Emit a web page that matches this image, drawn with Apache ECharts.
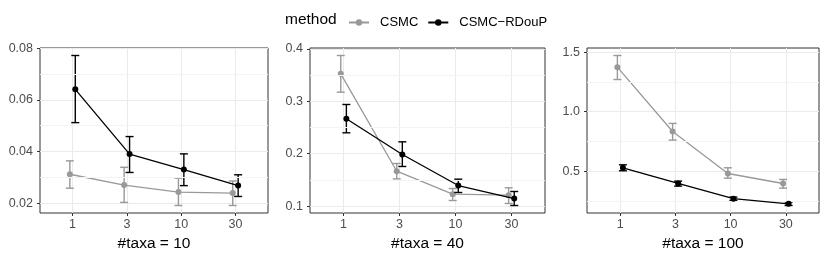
<!DOCTYPE html>
<html><head><meta charset="utf-8">
<script src="https://cdn.jsdelivr.net/npm/echarts@6/dist/echarts.min.js"></script>
<style>html,body{margin:0;padding:0;background:#fff}#c{width:830px;height:260px}</style>
</head><body><div id="c"></div>
<script>
const categories = ['1', '3', '10', '30'];
const panelTitles = ['#taxa = 10', '#taxa = 40', '#taxa = 100'];
const methods = ['CSMC', 'CSMC\u2212RDouP'];

// #taxa = 10
const csmcMean10 = [0.0312, 0.0270, 0.0243, 0.0239];
const csmcLow10  = [0.0258, 0.0203, 0.0191, 0.0191];
const csmcHigh10 = [0.0364, 0.0339, 0.0297, 0.0286];
const rdoupMean10 = [0.0641, 0.0390, 0.0330, 0.0268];
const rdoupLow10  = [0.0512, 0.0319, 0.0268, 0.0226];
const rdoupHigh10 = [0.0772, 0.0458, 0.0391, 0.0310];
const yTicks10 = ['0.02', '0.04', '0.06', '0.08'];
const yMinor10 = [0.03, 0.05, 0.07];

// #taxa = 40
const csmcMean40 = [0.3524, 0.1667, 0.1229, 0.1210];
const csmcLow40  = [0.3174, 0.1521, 0.1108, 0.1051];
const csmcHigh40 = [0.3873, 0.1814, 0.1337, 0.1350];
const rdoupMean40 = [0.2666, 0.1985, 0.1394, 0.1146];
const rdoupLow40  = [0.2399, 0.1757, 0.1261, 0.1013];
const rdoupHigh40 = [0.2939, 0.2227, 0.1515, 0.1280];
const yTicks40 = ['0.1', '0.2', '0.3', '0.4'];
const yMinor40 = [0.15, 0.25, 0.35];

// #taxa = 100
const csmcMean100 = [1.374, 0.833, 0.480, 0.396];
const csmcLow100  = [1.270, 0.761, 0.441, 0.357];
const csmcHigh100 = [1.472, 0.901, 0.528, 0.430];
const rdoupMean100 = [0.528, 0.396, 0.268, 0.225];
const rdoupLow100  = [0.503, 0.374, 0.254, 0.211];
const rdoupHigh100 = [0.553, 0.416, 0.282, 0.240];
const yTicks100 = ['0.5', '1.0', '1.5'];
const yMinor100 = [0.25, 0.75, 1.25];

const panels = [
  { title: panelTitles[0], mean: [csmcMean10, rdoupMean10], low: [csmcLow10, rdoupLow10], high: [csmcHigh10, rdoupHigh10], ticks: yTicks10, minor: yMinor10 },
  { title: panelTitles[1], mean: [csmcMean40, rdoupMean40], low: [csmcLow40, rdoupLow40], high: [csmcHigh40, rdoupHigh40], ticks: yTicks40, minor: yMinor40 },
  { title: panelTitles[2], mean: [csmcMean100, rdoupMean100], low: [csmcLow100, rdoupLow100], high: [csmcHigh100, rdoupHigh100], ticks: yTicks100, minor: yMinor100 }
];
const gridBoxes = [
  { left: 40, width: 228 },
  { left: 310, width: 235 },
  { left: 587, width: 232 }
];
const colors = ['#999999', '#000000'];
const dodge = [-0.05, 0.05];
const FONT = 'Liberation Sans, Arial, sans-serif';

const grids = [], xAxes = [], yAxes = [], series = [];
panels.forEach((p, i) => {
  grids.push({ left: gridBoxes[i].left, width: gridBoxes[i].width, top: 48, height: 165, show: true, borderColor: '#333333', borderWidth: 1, backgroundColor: 'transparent' });
  const catIdx = categories.map((c, k) => k + 1);
  xAxes.push({
    type: 'value', gridIndex: i, min: 0.4, max: 4.6,
    name: p.title, nameLocation: 'middle', nameGap: 21,
    nameTextStyle: { fontSize: 15.5, color: '#000', fontFamily: FONT },
    axisLine: { show: false },
    axisTick: { show: true, length: 3, lineStyle: { color: '#333333' }, customValues: catIdx },
    axisLabel: { customValues: catIdx, formatter: v => categories[Math.round(v) - 1], fontSize: 12.5, color: '#4D4D4D', margin: 5, fontFamily: FONT },
    splitLine: { show: true, lineStyle: { color: '#EBEBEB', width: 1 } }
  });
  const allLo = [].concat(...p.low), allHi = [].concat(...p.high);
  const lo = Math.min(...allLo), hi = Math.max(...allHi);
  const pad = (hi - lo) * 0.05;
  const tv = p.ticks.map(Number);
  yAxes.push({
    type: 'value', gridIndex: i, min: lo - pad, max: hi + pad,
    axisLine: { show: false },
    axisTick: { show: true, length: 3, lineStyle: { color: '#333333' }, customValues: tv },
    axisLabel: { customValues: tv, formatter: v => { const k = tv.findIndex(t => Math.abs(t - v) < 1e-9); return k >= 0 ? p.ticks[k] : ''; }, fontSize: 12.5, color: '#4D4D4D', margin: 7, fontFamily: FONT },
    splitLine: { show: true, lineStyle: { color: '#EBEBEB', width: 1 } }
  });
  // minor gridlines
  series.push({
    type: 'line', xAxisIndex: i, yAxisIndex: i, data: [], silent: true, z: 0,
    markLine: { silent: true, symbol: ['none', 'none'], label: { show: false }, animation: false,
      lineStyle: { color: '#F4F4F4', width: 1, type: 'solid' },
      data: p.minor.map(v => ({ yAxis: v })) }
  });
  [0, 1].forEach(m => {
    const ebData = categories.map((c, k) => [k + 1 + dodge[m], p.low[m][k], p.high[m][k]]);
    series.push({
      type: 'custom', name: 'eb' + i + m, xAxisIndex: i, yAxisIndex: i, z: 2 + m * 2,
      data: ebData,
      renderItem: (params, api) => {
        const x = api.value(0);
        const a = api.coord([x, api.value(1)]);
        const b = api.coord([x, api.value(2)]);
        const hw = 4;
        const st = { stroke: colors[m], lineWidth: 1.4 };
        return { type: 'group', children: [
          { type: 'line', shape: { x1: a[0], y1: a[1], x2: b[0], y2: b[1] }, style: st },
          { type: 'line', shape: { x1: a[0] - hw, y1: a[1], x2: a[0] + hw, y2: a[1] }, style: st },
          { type: 'line', shape: { x1: b[0] - hw, y1: b[1], x2: b[0] + hw, y2: b[1] }, style: st }
        ] };
      }
    });
    series.push({
      type: 'line', name: methods[m], xAxisIndex: i, yAxisIndex: i, z: 3 + m * 2,
      data: categories.map((c, k) => [k + 1 + dodge[m], p.mean[m][k]]),
      symbol: 'circle', symbolSize: 6, showSymbol: true,
      itemStyle: { color: colors[m] }, lineStyle: { color: colors[m], width: 1.3 }
    });
  });
});

const chart = echarts.init(document.getElementById('c'), null, { renderer: 'canvas' });
chart.setOption({
  animation: false,
  backgroundColor: '#ffffff',
  textStyle: { fontFamily: FONT },
  title: { text: 'method', left: 285, top: 12, padding: 0, textStyle: { fontSize: 15.5, fontWeight: 'normal', color: '#000', fontFamily: FONT } },
  legend: {
    data: methods, left: 348, top: 16, padding: 0, itemGap: 9, itemWidth: 20, itemHeight: 8,
    textStyle: { fontSize: 13, color: '#000', fontFamily: FONT, padding: [0, 0, 0, 6] }
  },
  grid: grids, xAxis: xAxes, yAxis: yAxes, series: series
});
</script></body></html>
